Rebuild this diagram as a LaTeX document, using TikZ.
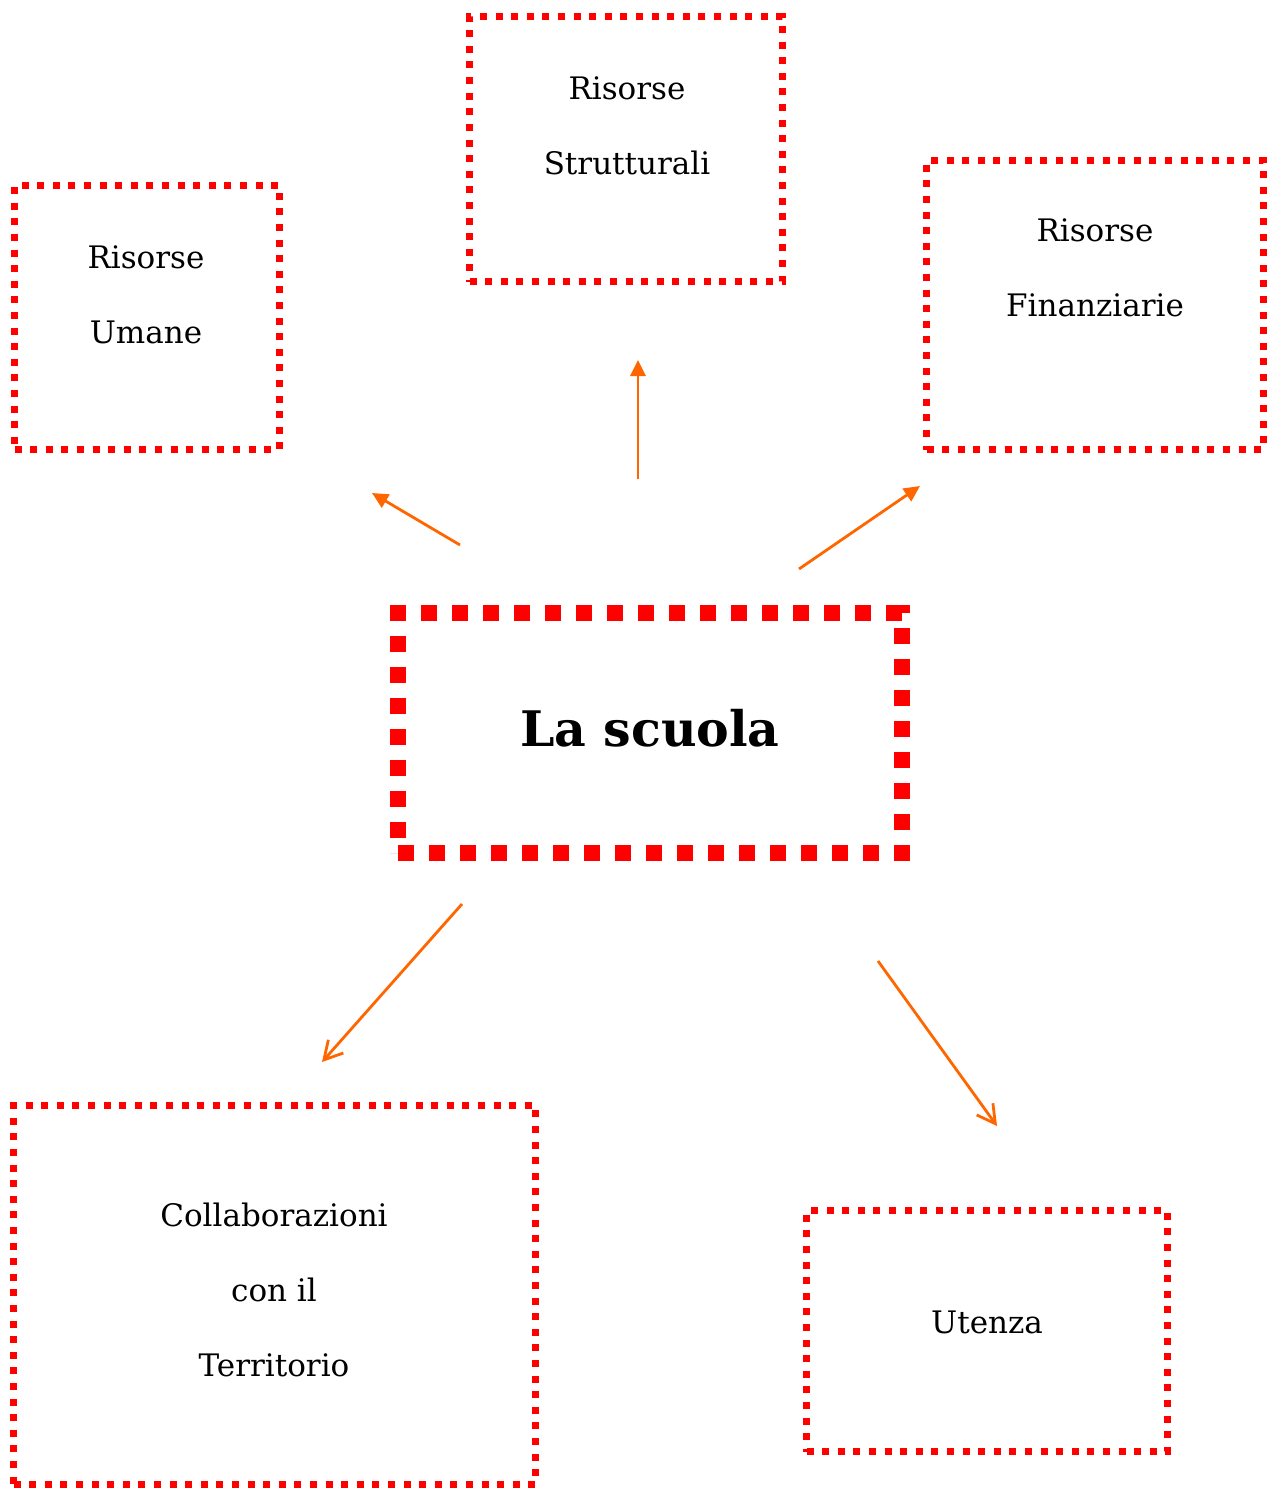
\documentclass[tikz,border=0pt]{standalone}
\usepackage{fontspec}
\setmainfont{DejaVu Serif}
\usetikzlibrary{arrows.meta}

\definecolor{rosso}{RGB}{255,0,0}
\definecolor{arancio}{RGB}{255,102,0}

\tikzset{
  cornice/.style={draw=rosso, line width=3.5pt, dash pattern=on 3.5pt off 4.3pt, inner sep=0pt},
  cornicegrossa/.style={draw=rosso, line width=8pt, dash pattern=on 8pt off 7.5pt, inner sep=0pt},
  voce/.style={font=\fontsize{15.5pt}{37.5pt}\selectfont, align=center, anchor=base, inner sep=0pt},
  freccia/.style={draw=arancio, line width=1.4pt, -{Triangle[length=8pt,width=7.5pt]}},
  frecciaperta/.style={draw=arancio, line width=1.4pt, -{Straight Barb[length=9pt,width=10pt]}}
}

\begin{document}
\begin{tikzpicture}[x=0.5pt, y=-0.5pt]
			%%%%% START %%%%%
			\useasboundingbox (0,0) rectangle (1274,1488);
			
			% riquadri
			\node[cornicegrossa, minimum width=252pt, minimum height=120pt] (scuola) at (650,733) {};
			\node[cornice, minimum width=132.5pt, minimum height=132pt] (umane) at (147,317.5) {};
			\node[cornice, minimum width=156.5pt, minimum height=132.5pt] (strutturali) at (626,149) {};
			\node[cornice, minimum width=168.5pt, minimum height=144.5pt] (finanziarie) at (1095,305) {};
			\node[cornice, minimum width=261pt, minimum height=189.5pt] (territorio) at (274.5,1295) {};
			\node[cornice, minimum width=180.5pt, minimum height=120.5pt] (utenza) at (987,1331) {};
			
			% testi (base = ultima riga)
			\node[voce, font=\fontsize{24.5pt}{28pt}\selectfont\bfseries] (scuola-t) at (650,746) {La scuola};
			\node[voce] (umane-t) at (146,343) {Risorse\\Umane};
			\node[voce] (strutturali-t) at (627,174) {Risorse\\Strutturali};
			\node[voce] (finanziarie-t) at (1095,316) {Risorse\\Finanziarie};
			\node[voce] (territorio-t) at (274,1376) {Collaborazioni\\con il\\Territorio};
			\node[voce] (utenza-t) at (987,1333) {Utenza};
			
			% frecce
			\coordinate (u0) at (460,545);  \coordinate (u1) at (372,493);
			\coordinate (s0) at (638,479);  \coordinate (s1) at (638,360);
			\coordinate (f0) at (799,569);  \coordinate (f1) at (920,486);
			\coordinate (t0) at (462,904);  \coordinate (t1) at (322,1062);
			\coordinate (e0) at (878,961);  \coordinate (e1) at (997,1126);
			
			\draw[freccia] (u0) -- (u1);
			\draw[freccia] (s0) -- (s1);
			\draw[freccia] (f0) -- (f1);
			\draw[frecciaperta] (t0) -- (t1);
			\draw[frecciaperta] (e0) -- (e1);
			
			%%%%% END %%%%%
\end{tikzpicture}
\end{document}
